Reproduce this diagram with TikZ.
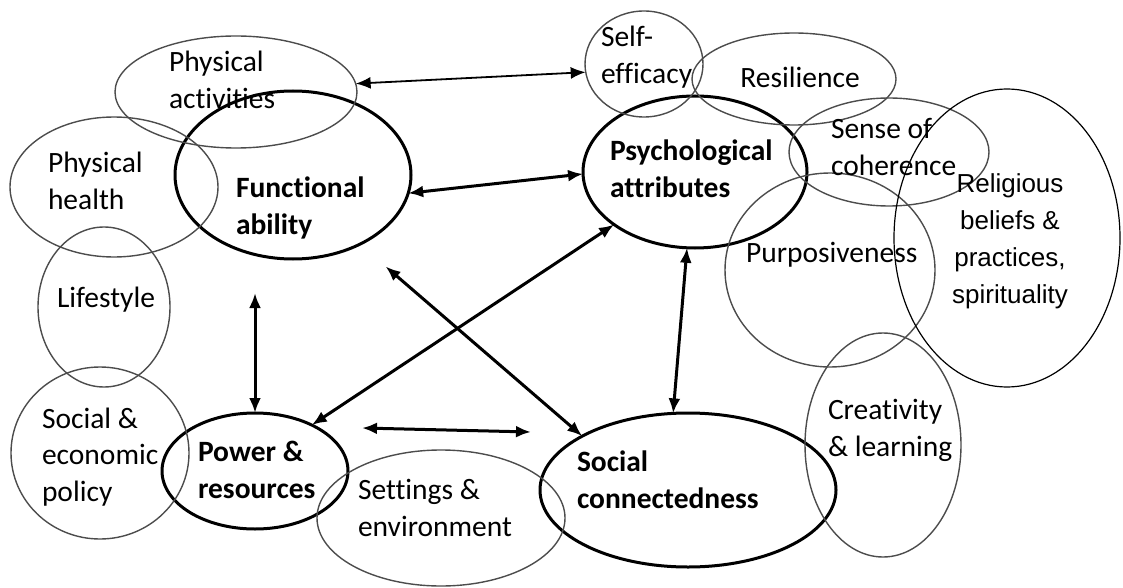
\documentclass[tikz,border=0pt]{standalone}
\usepackage{fontspec}
\setmainfont{Carlito}[Ligatures=NoCommon]
\newfontfamily\arialfont{Liberation Sans}
\usetikzlibrary{arrows.meta,shapes.geometric}
\begin{document}
\begin{tikzpicture}[x=1pt,y=-1pt,>={Latex[length=15pt,width=12pt]}, line join=round,
    every node/.style={inner sep=0pt,outer sep=0pt},
    minor/.style={ellipse,draw=black!70,line width=1.4pt},
    major/.style={ellipse,draw,line width=3pt},
    lab/.style={font=\fontsize{29.5}{37}\selectfont,align=left,anchor=west},
    keylab/.style={lab,font=\fontsize{29.5}{37}\selectfont\bfseries},
    link/.style={<->,line width=3pt}]
                \useasboundingbox (0,0) rectangle (1123,588);
                \node[major,minimum width=236pt,minimum height=168pt] (func) at (293,175) {};
                \node[major,minimum width=224pt,minimum height=152pt] (psych) at (695,172) {};
                \node[major,minimum width=186pt,minimum height=116pt] (power) at (255,471) {};
                \node[major,minimum width=296pt,minimum height=154pt] (social) at (688,490) {};
                \node[minor,minimum width=242pt,minimum height=112pt] (physact) at (236,92) {};
                \node[minor,minimum width=208pt,minimum height=140pt] (physhealth) at (114,187) {};
                \node[minor,minimum width=132pt,minimum height=160pt] (lifestyle) at (104,307) {};
                \node[minor,minimum width=178pt,minimum height=172pt] (policy) at (100,453) {};
                \node[minor,minimum width=248pt,minimum height=136pt] (settings) at (441,518) {};
                \node[minor,minimum width=118pt,minimum height=106pt] (selfeff) at (644,64) {};
                \node[minor,minimum width=204pt,minimum height=92pt] (resil) at (794,79) {};
                \node[minor,minimum width=200pt,minimum height=108pt] (coher) at (889,152) {};
                \node[minor,minimum width=210pt,minimum height=194pt] (purpose) at (830,270) {};
                \node[minor,minimum width=156pt,minimum height=224pt] (creat) at (883,445) {};
                \node[ellipse,draw,line width=1.2pt,minimum width=226pt,minimum height=298pt] (relig) at (1007,238) {};
                \node[keylab] (func-t) at (236,208) {Functional\\ability};
                \node[keylab] (psych-t) at (610,169) {Psychological\\attributes};
                \node[keylab] (power-t) at (198,470) {Power \&\\resources};
                \node[keylab] (social-t) at (577,480) {Social\\connectedness};
                \node[lab] (physact-t) at (169,80) {Physical\\activities};
                \node[lab] (physhealth-t) at (48,181) {Physical\\health};
                \node[lab] (lifestyle-t) at (57,300) {Lifestyle};
                \node[lab,font=\fontsize{29.5}{36.5}\selectfont] (policy-t) at (42,457) {Social \&\\economic\\policy};
                \node[lab] (settings-t) at (358,508) {Settings \&\\environment};
                \node[lab] (selfeff-t) at (601,57) {Self-\\efficacy};
                \node[lab,anchor=center] (resil-t) at (800,77) {Resilience};
                \node[lab] (coher-t) at (831,147) {Sense of\\coherence};
                \node[lab] (purpose-t) at (746,255) {Purposiveness};
                \node[lab] (creat-t) at (828,430) {Creativity\\\& learning};
                \node[align=center,font=\arialfont\fontsize{26}{37}\selectfont] (relig-t) at (1010,241) {Religious\\beliefs \&\\practices,\\spirituality};
                \coordinate (setl) at (362,428);
                \coordinate (setr) at (531,432);
                \draw[link,line width=1.8pt] (physact.4) -- (selfeff.188);
                \draw[link] (func.-9) -- (psych.181);
                \draw[link,shorten <=34pt] (power.north |- func.south) -- (power.north);
                \draw[link,shorten <=34pt] (func.-46) -- (social.153);
                \draw[link] (power.39) -- (psych.213);
                \draw[link] (psych.-96) -- (social.101);
                \draw[link] (setl) -- (setr);
            \end{tikzpicture}
\end{document}
